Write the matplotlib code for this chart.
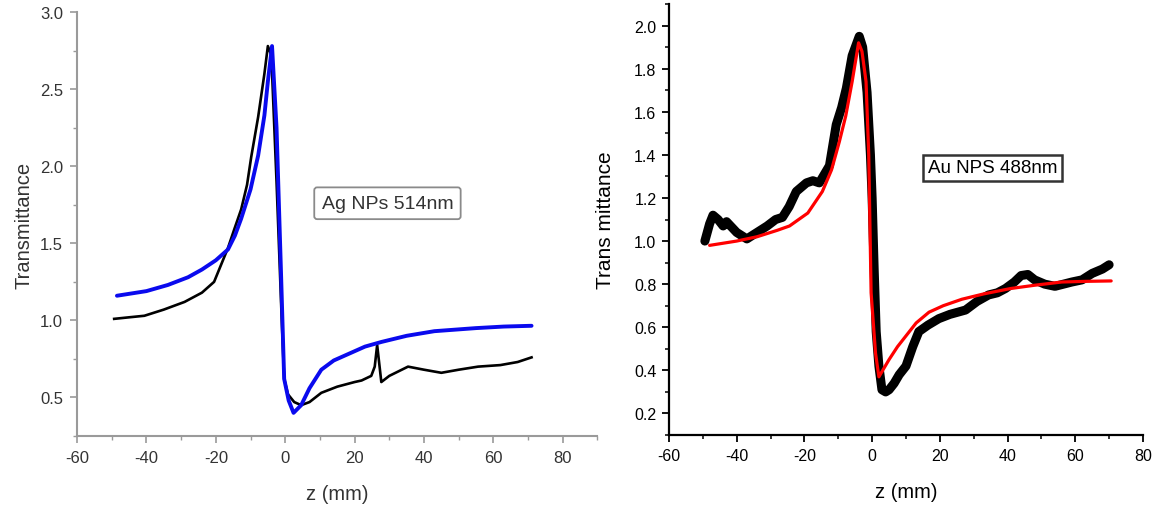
import matplotlib.pyplot as plt
from matplotlib.ticker import MultipleLocator

plt.rcParams["font.family"] = ["Liberation Sans", "DejaVu Sans"]
plt.rcParams["axes.unicode_minus"] = False

# Ag NPs 514 nm: measured (black) and fit (blue)
ag_z = [-49.3, -45, -40.6, -35, -29, -24, -20.5, -18.5, -16.5, -14.7, -12.7, -11,
        -9.8, -7.8, -6, -5, -4, -2.5, -1, -0.3, 0.8, 2.6, 4.6, 7, 10.4, 15, 20,
        22, 24.8, 25.8, 26.5, 27.2, 27.7, 30, 35.4, 40, 45, 50, 55.6, 62, 67, 71]
ag_meas = [1.01, 1.02, 1.03, 1.07, 1.12, 1.18, 1.25, 1.36, 1.47, 1.59, 1.72, 1.88,
           2.06, 2.32, 2.6, 2.78, 2.72, 1.9, 1.0, 0.62, 0.52, 0.47, 0.45, 0.47, 0.53, 0.57, 0.6,
           0.61, 0.64, 0.7, 0.84, 0.7, 0.60, 0.64, 0.70, 0.68, 0.66, 0.68, 0.70, 0.71, 0.73, 0.76]

ag_fit_z = [-48.5, -40, -33.8, -28, -24, -20, -16.5, -14.5, -12.7, -10, -7.8, -6,
            -5, -3.8, -2.5, -1.2, -0.3, 1, 2.4, 4.6, 7, 10.4, 14, 19, 23, 27.7, 35, 43, 55, 63, 71]
ag_fit = [1.16, 1.19, 1.23, 1.28, 1.33, 1.39, 1.46, 1.55, 1.66, 1.85, 2.07, 2.33,
          2.55, 2.78, 2.25, 1.3, 0.62, 0.48, 0.40, 0.45, 0.56, 0.68, 0.74, 0.79, 0.83, 0.86, 0.90, 0.93, 0.95, 0.96, 0.965]

# Au NPs 488 nm: measured (black) and fit (red)
au_z = [-49.4, -48, -47, -45.5, -44, -43, -40, -37, -34, -31, -28.5, -26.5,
        -24.5, -22.4, -19.4, -17.5, -15.6, -12.6, -10.6, -9, -7.6, -5.9, -4.5, -3.8,
        -2.8, -1.5, -0.5, 0, 0.6, 1.2, 2, 2.9, 4, 5, 6.5, 8, 10, 12, 13.8, 16.5, 19.7,
        23, 27.6, 31, 34.4, 37, 39.4, 42, 44, 46, 48, 51, 54, 56.5, 59, 62, 65, 68, 70]
au_meas = [1.0, 1.08, 1.12, 1.10, 1.07, 1.09, 1.04, 1.01, 1.04, 1.07, 1.10, 1.11,
           1.16, 1.23, 1.27, 1.28, 1.27, 1.35, 1.54, 1.62, 1.71, 1.86, 1.92, 1.95,
           1.9, 1.69, 1.4, 1.2, 0.87, 0.58, 0.42, 0.31, 0.3, 0.31, 0.34, 0.38, 0.42, 0.51, 0.58, 0.61, 0.64,
           0.66, 0.68, 0.72, 0.75, 0.76, 0.78, 0.81, 0.84, 0.845, 0.82, 0.80, 0.79, 0.80, 0.81, 0.82, 0.85, 0.87, 0.89]

au_fit_z = [-48, -40, -34, -28, -24.4, -19, -14.7, -12, -9.7, -7.8, -5.9, -4,
            -3, -1.8, -1, -0.3, 1, 2, 3.5, 5, 7.5, 10, 13, 16.8, 21, 26.5, 33, 41, 48, 56, 63, 70.6]
au_fit = [0.98, 1.0, 1.02, 1.05, 1.07, 1.13, 1.23, 1.33, 1.46, 1.58, 1.74, 1.92,
          1.88, 1.74, 1.4, 0.76, 0.48, 0.37, 0.41, 0.45, 0.51, 0.56, 0.62, 0.67, 0.70, 0.73, 0.755, 0.78, 0.795, 0.81, 0.813, 0.815]

fig = plt.figure(figsize=(11.55, 5.06), dpi=100)

# ---- panel izquierdo: Ag ----
ax1 = fig.add_axes([0.0667, 0.1364, 0.4506, 0.8376])
ax1.plot(ag_z, ag_meas, color="black", lw=1.9, solid_joinstyle="round")
ax1.plot(ag_fit_z, ag_fit, color="#0a0aee", lw=2.8, solid_joinstyle="round", solid_capstyle="round")
ax1.set_xlim(-60, 90)
ax1.set_ylim(0.25, 3.0)
ax1.xaxis.set_major_locator(MultipleLocator(20))
ax1.xaxis.set_minor_locator(MultipleLocator(10))
ax1.yaxis.set_major_locator(MultipleLocator(0.5))
ax1.yaxis.set_minor_locator(MultipleLocator(0.25))
for side in ["top", "right"]:
    ax1.spines[side].set_visible(False)
for side in ["left", "bottom"]:
    ax1.spines[side].set_color("#9a9a9a")
    ax1.spines[side].set_linewidth(1.5)
ax1.tick_params(which="both", direction="out", color="#9a9a9a", labelcolor="#333333",
                labelsize=12)
ax1.tick_params(which="major", length=5, width=1.2, pad=5)
ax1.tick_params(which="minor", length=3, width=1.0)
ax1.set_ylabel("Transmittance", fontsize=14.5, color="#333333", labelpad=5)
ax1.set_xlabel("z (mm)", fontsize=14.5, color="#333333", labelpad=14)
ax1.text(10.5, 1.76, "Ag NPs 514nm", fontsize=14, color="#333333", va="center", ha="left",
         bbox=dict(boxstyle="round,pad=0.38,rounding_size=0.15", fc="white", ec="#8a8a8a", lw=1.3))

# ---- panel derecho: Au ----
ax2 = fig.add_axes([0.5792, 0.1383, 0.4104, 0.8518])
ax2.plot(au_z, au_meas, color="black", lw=6.5, solid_joinstyle="round", solid_capstyle="round")
ax2.plot(au_fit_z, au_fit, color="#ff0000", lw=2.3, solid_joinstyle="round", solid_capstyle="round")
ax2.set_xlim(-60, 80)
ax2.set_ylim(0.1, 2.1)
ax2.xaxis.set_major_locator(MultipleLocator(20))
ax2.xaxis.set_minor_locator(MultipleLocator(10))
ax2.yaxis.set_major_locator(MultipleLocator(0.2))
ax2.yaxis.set_minor_locator(MultipleLocator(0.1))
ax2.yaxis.set_major_formatter(plt.FormatStrFormatter("%.1f"))
for side in ["top", "right"]:
    ax2.spines[side].set_visible(False)
for side in ["left", "bottom"]:
    ax2.spines[side].set_linewidth(1.6)
ax2.tick_params(which="both", direction="out", labelsize=11.5)
ax2.tick_params(which="major", length=5, width=1.3, pad=4)
ax2.tick_params(which="minor", length=3, width=1.1)
ax2.set_ylabel("Trans mittance", fontsize=15, labelpad=14)
ax2.set_xlabel("z (mm)", fontsize=14.5, labelpad=14)
ax2.text(16.5, 1.34, "Au NPS 488nm", fontsize=13.5, va="center", ha="left",
         bbox=dict(boxstyle="square,pad=0.25", fc="white", ec="#333333", lw=1.8))

fig.savefig("out.png", dpi=100)
